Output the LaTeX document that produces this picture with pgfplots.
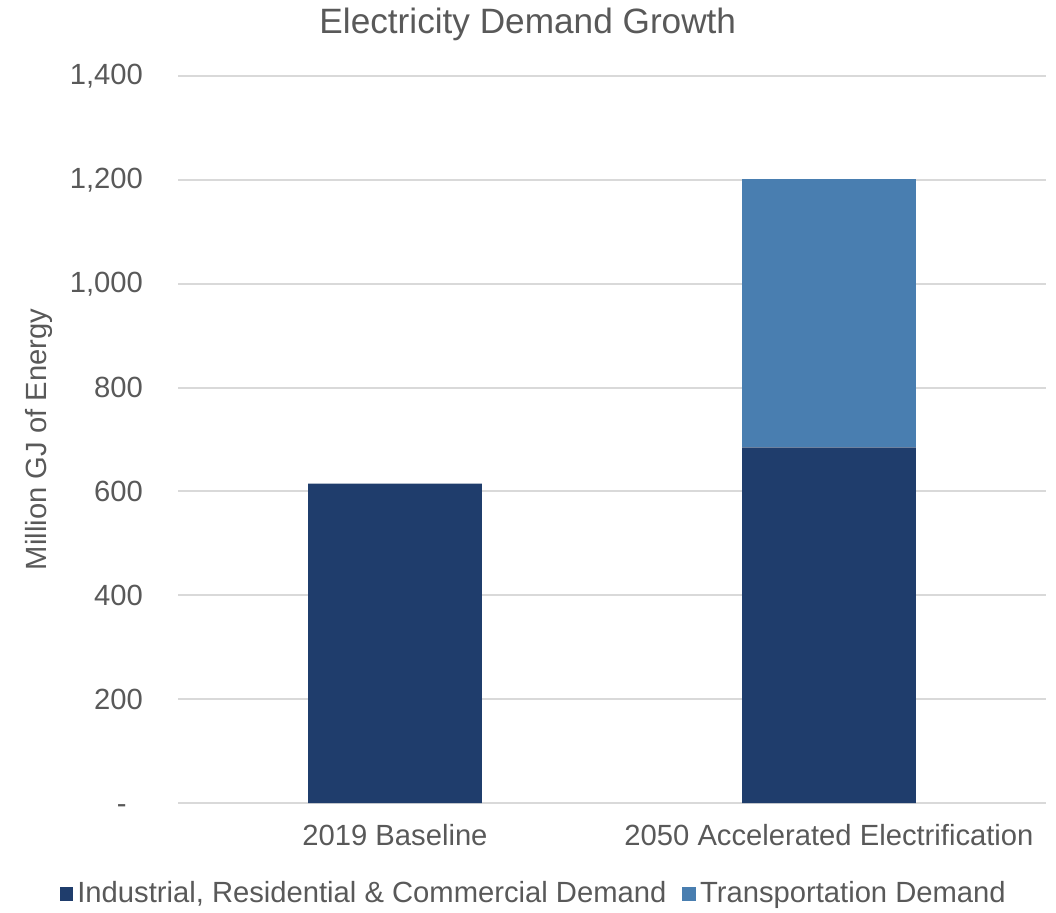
\documentclass[border=0pt]{standalone}
\usepackage{pgfplots}
\pgfplotsset{compat=1.18}
\usepackage{fontspec}
\setmainfont{Liberation Sans}
\definecolor{txtgray}{HTML}{595959}
\definecolor{gridgray}{HTML}{D9D9D9}
\definecolor{darkblue}{RGB}{31,61,108}
\definecolor{lightblue}{RGB}{73,126,176}
\begin{document}
\begin{tikzpicture}
\path[use as bounding box] (0pt,0pt) rectangle (528pt,456pt);
\begin{axis}[
  at={(89pt,54.5pt)}, anchor=south west,
  scale only axis, width=434pt, height=363.5pt,
  xmin=-0.5, xmax=1.5, ymin=0, ymax=1400,
  ybar stacked, bar width=86.8pt,
  axis line style={draw=none},
  major tick length=0pt,
  xtick={0,1},
  xticklabels={2019 Baseline, 2050 Accelerated Electrification},
  ytick={0,200,...,1400},
  yticklabels={-\phantom{0},200,400,600,800,{1,000},{1,200},{1,400}},
  ymajorgrids, grid style={gridgray, line width=1pt},
  /pgf/number format/assume math mode=true,
  tick label style={font=\fontsize{14.6}{17}\selectfont, text=txtgray},
  yticklabel style={xshift=-14pt},
  xticklabel style={yshift=-7pt},
  ylabel={Million GJ of Energy},
  ylabel style={font=\fontsize{14.6}{17}\selectfont, text=txtgray, at={(axis description cs:-0.16,0.5)}, anchor=center},
  title={Electricity Demand Growth},
  title style={font=\fontsize{17.6}{21}\selectfont, text=txtgray, at={(axis description cs:0.403,1.054)}, anchor=center},
  legend columns=2,
  legend style={draw=none, fill=none, at={(axis description cs:0.411,-0.125)}, anchor=center,
    font=\fontsize{14.6}{17}\selectfont, text=txtgray,
    /tikz/every even column/.append style={column sep=6pt}},
  legend image code/.code={\fill[#1] (-1.4pt,-3.4pt) rectangle (5.4pt,3.4pt);},
]
\addplot[fill=darkblue, draw=none] coordinates {(0,615) (1,685)};
\addlegendentry{Industrial, Residential \& Commercial Demand}
\addplot[fill=lightblue, draw=none] coordinates {(0,0) (1,517)};
\addlegendentry{Transportation Demand}
\end{axis}
\end{tikzpicture}
\end{document}
